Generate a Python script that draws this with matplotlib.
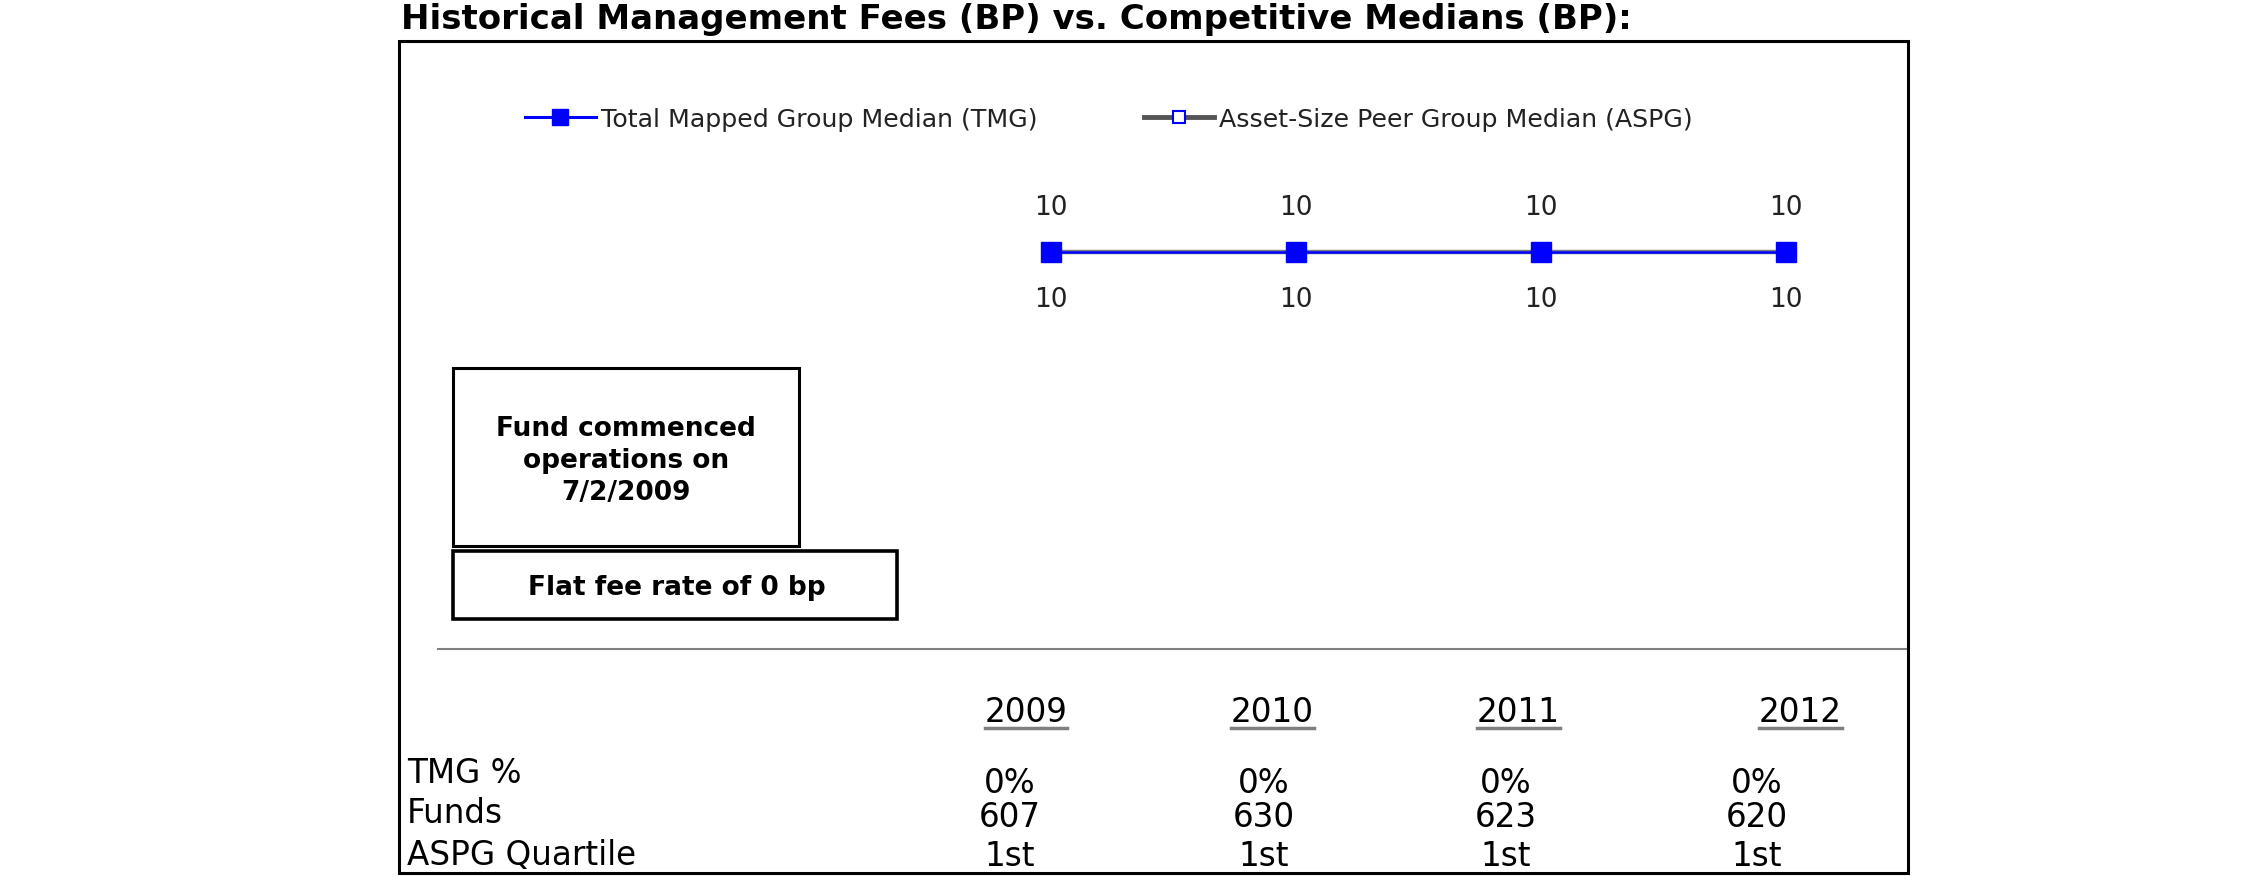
import matplotlib
matplotlib.use("Agg")
import matplotlib.pyplot as plt
from matplotlib.patches import Rectangle
from matplotlib.lines import Line2D

years = ["2009", "2010", "2011", "2012"]
tmg_median = [10, 10, 10, 10]
aspg_median = [10, 10, 10, 10]
row_labels = ["TMG %", "Funds", "ASPG Quartile"]
tmg_pct = ["0%", "0%", "0%", "0%"]
funds = ["607", "630", "623", "620"]
aspg_quartile = ["1st", "1st", "1st", "1st"]

W, H = 2250, 895
fig = plt.figure(figsize=(W / 100, H / 100), dpi=100)


def fx(x):
    return x / W


def fy(y):
    return 1 - y / H


BLUE = "#0000FF"
GRAY = "#7F7F7F"

# title
fig.text(fx(401), fy(29), "Historical Management Fees (BP) vs. Competitive Medians (BP):",
         fontsize=24.5, fontweight="bold", ha="left", va="baseline", color="black")

# outer frame and separator
fig.add_artist(Rectangle((fx(399), fy(874)), fx(1908) - fx(399), fy(42) - fy(874),
                         transform=fig.transFigure, fill=False, lw=2.2, ec="black"))
fig.add_artist(Line2D([fx(438), fx(1906)], [fy(650), fy(650)], transform=fig.transFigure,
                      color=GRAY, lw=1.5))

# line chart
ax = fig.add_axes([fx(1051), fy(253) - 0.1, fx(1786) - fx(1051), 0.2])
x = list(range(len(years)))
ax.plot(x, aspg_median, color=GRAY, lw=3.2, marker="s", ms=9, mfc="white", mec=BLUE,
        clip_on=False, zorder=2)
ax.plot(x, tmg_median, color=BLUE, lw=1.8, marker="s", ms=15, mfc=BLUE, mec=BLUE,
        clip_on=False, zorder=3)
for xi, v in zip(x, tmg_median):
    ax.annotate(str(v), (xi, v), xytext=(0, 45), textcoords="offset pixels",
                ha="center", va="center", fontsize=19, color="#222222")
for xi, v in zip(x, aspg_median):
    ax.annotate(str(v), (xi, v), xytext=(0, -47), textcoords="offset pixels",
                ha="center", va="center", fontsize=19, color="#222222")
ax.set_xlim(0, 3)
ax.set_ylim(0, 20)
ax.axis("off")

# legend
h1 = Line2D([], [], color=BLUE, lw=2.2, marker="s", ms=11, mfc=BLUE, mec=BLUE)
h2 = Line2D([], [], color="#555555", lw=3.5, marker="s", ms=9, mfc="white", mec=BLUE, mew=1.5)
fig.legend([h1, h2], ["Total Mapped Group Median (TMG)", "Asset-Size Peer Group Median (ASPG)"],
           loc="center left", bbox_to_anchor=(fx(525), fy(120)), ncol=2, frameon=False,
           fontsize=18.2, handlelength=2.8, handletextpad=0.2, columnspacing=4.2,
           borderpad=0, borderaxespad=0, labelcolor="#222222")

# annotation boxes
fig.add_artist(Rectangle((fx(453), fy(547)), fx(799) - fx(453), fy(369) - fy(547),
                         transform=fig.transFigure, fill=False, lw=2.2, ec="black"))
fig.text(fx(626), fy(461), "Fund commenced\noperations on\n7/2/2009", ha="center", va="center",
         fontsize=19, fontweight="bold", linespacing=1.3)
fig.add_artist(Rectangle((fx(453), fy(620)), fx(897) - fx(453), fy(552) - fy(620),
                         transform=fig.transFigure, fill=False, lw=2.6, ec="black"))
fig.text(fx(677), fy(588), "Flat fee rate of 0 bp", ha="center", va="center",
         fontsize=19, fontweight="bold")

# table under the chart
tfont = dict(fontsize=23.5, color="black")
year_x = [1026, 1272, 1518, 1800]
val_x = [1010, 1264, 1506, 1757]
fig.canvas.draw()
r = fig.canvas.get_renderer()
for xp, yr in zip(year_x, years):
    t = fig.text(fx(xp), fy(722), yr, ha="center", va="baseline", **tfont)
    bb = t.get_window_extent(renderer=r)
    fig.add_artist(Line2D([bb.x0 / W, bb.x1 / W], [fy(729), fy(729)], transform=fig.transFigure,
                          color=GRAY, lw=2.5))

for lab, yp in zip(row_labels, [783, 823, 865]):
    fig.text(fx(407), fy(yp), lab, ha="left", va="baseline", **tfont)
for xp, a, b, c in zip(val_x, tmg_pct, funds, aspg_quartile):
    fig.text(fx(xp), fy(793), a, ha="center", va="baseline", **tfont)
    fig.text(fx(xp), fy(827), b, ha="center", va="baseline", **tfont)
    fig.text(fx(xp), fy(866), c, ha="center", va="baseline", **tfont)

fig.savefig("out.png", dpi=100, facecolor="white")
